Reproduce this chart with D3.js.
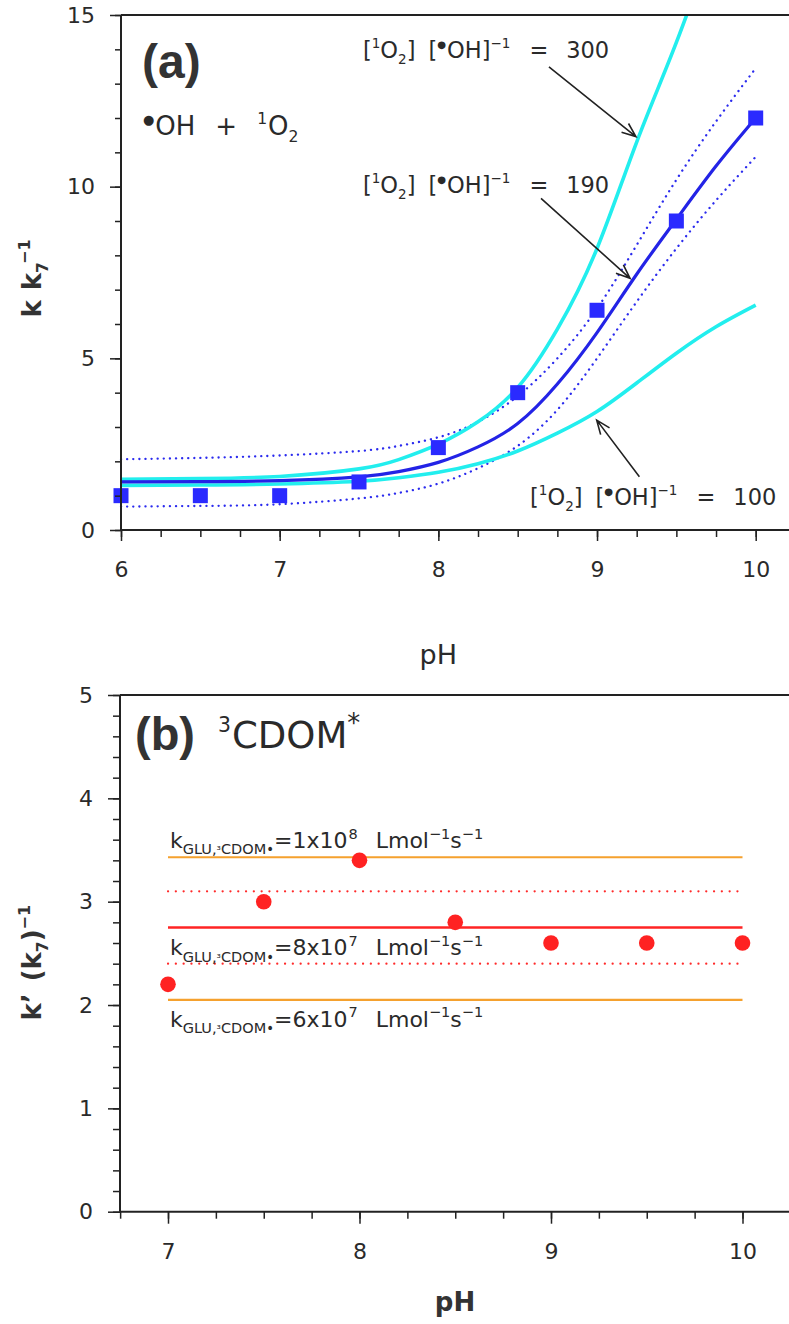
<!DOCTYPE html>
<html><head><meta charset="utf-8">
<script src="https://cdn.jsdelivr.net/npm/d3@7"></script>
<style>
html,body{margin:0;padding:0;background:#fff;}
svg{display:block;font-family:"DejaVu Sans",sans-serif;}
</style></head>
<body>
<svg id="c" width="789" height="1324"></svg>
<script>
// ---------------- DATA ----------------
// Panel (a)
const phObsA = [6, 6.5, 7, 7.5, 8, 8.5, 9, 9.5, 10];
const kObsA  = [1.0, 1.0, 1.0, 1.4, 2.4, 4.0, 6.4, 9.0, 12.0];
const phCurveA = [6, 6.5, 7, 7.5, 7.75, 8, 8.25, 8.5, 8.75, 9, 9.25, 9.5, 9.75, 10];
const fit190   = [1.40, 1.41, 1.44, 1.55, 1.70, 1.97, 2.42, 3.10, 4.25, 5.75, 7.45, 9.05, 10.60, 12.00];
const upper190 = [2.06, 2.10, 2.17, 2.30, 2.45, 2.70, 3.15, 3.90, 5.00, 6.45, 8.30, 10.20, 11.90, 13.45];
const lower190 = [0.68, 0.70, 0.75, 0.92, 1.08, 1.35, 1.80, 2.45, 3.50, 5.00, 6.65, 8.20, 9.60, 10.87];
const fit300   = [1.48, 1.50, 1.56, 1.78, 2.05, 2.50, 3.15, 4.15, 5.85, 8.20, 11.30, 14.20, 17.30, 20.00];
const fit100   = [1.30, 1.31, 1.34, 1.42, 1.52, 1.68, 1.93, 2.30, 2.82, 3.45, 4.28, 5.15, 5.92, 6.55];
const xTicksA = [6, 7, 8, 9, 10];
const yTicksA = [0, 5, 10, 15];

// Panel (b)
const phObsB = [7, 7.5, 8, 8.5, 9, 9.5, 10];
const kObsB  = [2.2, 3.0, 3.4, 2.8, 2.6, 2.6, 2.6];
const levelRangeB = [7, 10];
const levelValuesB = [3.43, 3.10, 2.75, 2.40, 2.05];
const levelKindsB  = ["orange", "reddot", "red", "reddot", "orange"];
const xTicksB = [7, 8, 9, 10];
const yTicksB = [0, 1, 2, 3, 4, 5];

// ---------------- DRAW ----------------
const svg = d3.select("#c");
const AX = "#222";
const TXT = "#2a2a2a";

function rich(g, x, y, segs, size, attrs) {
  const t = g.append("text").attr("x", x).attr("y", y).attr("font-size", size).attr("fill", TXT);
  if (attrs) Object.entries(attrs).forEach(([k, v]) => t.attr(k, v));
  let cur = 0;
  segs.forEach(s => {
    const [txt, type, dx, sc] = s;
    let shift = 0, fs = size;
    if (type === "sup") { shift = -size * 0.42; fs = size * (sc || 0.62); }
    else if (type === "sub") { shift = size * 0.28; fs = size * (sc || 0.62); }
    else if (sc) fs = size * sc;
    const ts = t.append("tspan").attr("dy", shift - cur).attr("font-size", fs).text(txt);
    if (dx) ts.attr("dx", dx);
    cur = shift;
  });
  return t;
}

// ===== Panel (a) =====
const xA = d3.scaleLinear().domain([6, 10]).range([121, 755.7]);
const yA = d3.scaleLinear().domain([0, 15]).range([530, 15]);
const gA = svg.append("g");

gA.append("clipPath").attr("id", "clipA").append("rect")
  .attr("x", xA(6) - 10).attr("y", yA(15)).attr("width", 789).attr("height", yA(0) - yA(15));

const lineA = (arr) => d3.line().x((d, i) => xA(phCurveA[i])).y(d => yA(d)).curve(d3.curveNatural)(arr);
const plotA = gA.append("g").attr("clip-path", "url(#clipA)");

[upper190, lower190].forEach(arr => {
  plotA.append("path").attr("d", lineA(arr)).attr("fill", "none").attr("stroke", "#2b2bee")
    .attr("stroke-width", 2.3).attr("stroke-dasharray", "0.1 6").attr("stroke-linecap", "round");
});
[fit300, fit100].forEach(arr => {
  plotA.append("path").attr("d", lineA(arr)).attr("fill", "none").attr("stroke", "#22eeee").attr("stroke-width", 3.6);
});
plotA.append("path").attr("d", lineA(fit190)).attr("fill", "none").attr("stroke", "#2323e6").attr("stroke-width", 3.2);

const sq = 15;
plotA.selectAll("rect.obs").data(phObsA).enter().append("rect")
  .attr("x", d => xA(d) - sq / 2).attr("y", (d, i) => yA(kObsA[i]) - sq / 2)
  .attr("width", sq).attr("height", sq).attr("fill", "#2a2aff");

// axes (a)
const axA = gA.append("g").attr("stroke", AX).attr("fill", "none");
axA.append("line").attr("x1", xA(6)).attr("x2", 789).attr("y1", yA(15)).attr("y2", yA(15)).attr("stroke-width", 2);
axA.append("line").attr("x1", xA(6)).attr("x2", 789).attr("y1", yA(0)).attr("y2", yA(0)).attr("stroke-width", 2);
axA.append("line").attr("x1", xA(6)).attr("x2", xA(6)).attr("y1", yA(0)).attr("y2", yA(15)).attr("stroke-width", 2);

function styleAxis(g) {
  g.select(".domain").remove();
  g.attr("font-family", null);
  g.selectAll("line").attr("stroke", AX).attr("stroke-width", 1.5);
  g.selectAll("text").attr("font-family", "DejaVu Sans").attr("font-size", 22).attr("fill", TXT);
}
gA.append("g").attr("transform", `translate(${xA(6)},0)`)
  .call(d3.axisLeft(yA).tickValues(d3.range(0, 15.01, 1)).tickSize(6).tickFormat(""))
  .call(styleAxis);
gA.append("g").attr("transform", `translate(${xA(6)},0)`)
  .call(d3.axisLeft(yA).tickValues(yTicksA).tickSize(11).tickPadding(15).tickFormat(d3.format("d")))
  .call(styleAxis);
gA.append("g").attr("transform", `translate(0,${yA(0)})`)
  .call(d3.axisBottom(xA).tickValues(d3.range(6, 10.01, 0.25)).tickSize(7).tickFormat(""))
  .call(styleAxis);
gA.append("g").attr("transform", `translate(0,${yA(0)})`)
  .call(d3.axisBottom(xA).tickValues(xTicksA).tickSize(11).tickPadding(20).tickFormat(d3.format("d")))
  .call(styleAxis);

gA.append("text").attr("x", xA(8)).attr("y", 664).attr("text-anchor", "middle")
  .attr("font-size", 27).attr("fill", TXT).text("pH");

rich(gA, 0, 0, [["k", ""], ["k", "", 10], ["7", "sub", 0, 0.6], ["−1", "sup", -2, 0.62]], 26,
  {"font-weight": "bold", "transform": `translate(41,${yA(7.5) + 45}) rotate(-90)`, "fill": "#333"});

gA.append("text").attr("x", 142).attr("y", 78).attr("font-size", 48).attr("font-weight", "bold")
  .attr("font-family", "Liberation Sans").attr("fill", "#333").text("(a)");
rich(gA, 143, 135, [["●", "sup", 0, 0.5], ["OH", "", 1], ["+", "", 20], ["1", "sup", 20, 0.6], ["O", "", 1], ["2", "sub", 0, 0.6]], 26);

// annotations (a)
const notes = [
  {txt: "300", x: 7.525, y: 13.75, a: [8.697, 13.49, 9.245, 11.46]},
  {txt: "190", x: 7.525, y: 9.82,  a: [8.647, 9.66, 9.208, 7.33]},
  {txt: "100", x: 8.578, y: 0.73,  a: [9.267, 1.55, 8.998, 3.20]}
];
notes.forEach(n => {
  rich(gA, xA(n.x), yA(n.y), [["[", ""], ["1", "sup", 0, 0.6], ["O", ""], ["2", "sub", 0, 0.6], ["]", ""],
    ["[", "", 13], ["●", "sup", 0, 0.45], ["OH]", "", 1], ["−1", "sup", 0, 0.6], ["=", "", 19], [n.txt, "", 18]], 22.5);
  const x1 = xA(n.a[0]), y1 = yA(n.a[1]), x2 = xA(n.a[2]), y2 = yA(n.a[3]);
  const ang = Math.atan2(y2 - y1, x2 - x1), L = 15, w = 0.38;
  gA.append("path").attr("fill", "none").attr("stroke", "#222").attr("stroke-width", 1.6)
    .attr("d", `M${x1},${y1}L${x2},${y2}M${x2 - L * Math.cos(ang - w)},${y2 - L * Math.sin(ang - w)}L${x2},${y2}L${x2 - L * Math.cos(ang + w)},${y2 - L * Math.sin(ang + w)}`);
});

// ===== Panel (b) =====
const xB = d3.scaleLinear().domain([7, 10]).range([168, 742.5]);
const yB = d3.scaleLinear().domain([0, 5]).range([1211.7, 695]);
const gB = svg.append("g");
const x0B = 120;

const levelStyle = {
  orange: {stroke: "#f5a12e", w: 2.2, dash: null},
  red: {stroke: "#ff2424", w: 2.6, dash: null},
  reddot: {stroke: "#ff2a2a", w: 2.2, dash: "0.1 7.7"}
};
levelValuesB.forEach((v, i) => {
  const s = levelStyle[levelKindsB[i]];
  const l = gB.append("line").attr("x1", xB(levelRangeB[0])).attr("x2", xB(levelRangeB[1]))
    .attr("y1", yB(v)).attr("y2", yB(v)).attr("stroke", s.stroke).attr("stroke-width", s.w);
  if (s.dash) l.attr("stroke-dasharray", s.dash).attr("stroke-linecap", "round");
});

gB.selectAll("circle.obs").data(phObsB).enter().append("circle")
  .attr("cx", d => xB(d)).attr("cy", (d, i) => yB(kObsB[i])).attr("r", 7.8).attr("fill", "#ff2222");

const axB = gB.append("g").attr("stroke", AX).attr("fill", "none");
axB.append("line").attr("x1", x0B).attr("x2", 789).attr("y1", yB(5)).attr("y2", yB(5)).attr("stroke-width", 2);
axB.append("line").attr("x1", x0B).attr("x2", 789).attr("y1", yB(0)).attr("y2", yB(0)).attr("stroke-width", 2);
axB.append("line").attr("x1", x0B).attr("x2", x0B).attr("y1", yB(0)).attr("y2", yB(5)).attr("stroke-width", 2);

gB.append("g").attr("transform", `translate(${x0B},0)`)
  .call(d3.axisLeft(yB).tickValues(d3.range(0, 5.001, 0.2)).tickSize(7).tickFormat(""))
  .call(styleAxis);
gB.append("g").attr("transform", `translate(${x0B},0)`)
  .call(d3.axisLeft(yB).tickValues(yTicksB).tickSize(12).tickPadding(15).tickFormat(d3.format("d")))
  .call(styleAxis);
gB.append("g").attr("transform", `translate(0,${yB(0)})`)
  .call(d3.axisBottom(xB).tickValues(d3.range(6.75, 10.01, 0.25)).tickSize(7).tickFormat(""))
  .call(styleAxis);
gB.append("g").attr("transform", `translate(0,${yB(0)})`)
  .call(d3.axisBottom(xB).tickValues(xTicksB).tickSize(12).tickPadding(20).tickFormat(d3.format("d")))
  .call(styleAxis);

gB.append("text").attr("x", 455).attr("y", 1311).attr("text-anchor", "middle")
  .attr("font-size", 26).attr("font-weight", "bold").attr("fill", "#333").text("pH");

rich(gB, 0, 0, [["k’", ""], ["(k", "", 12], ["7", "sub", 0, 0.6], [")", ""], ["−1", "sup", 0, 0.62]], 26,
  {"font-weight": "bold", "transform": `translate(41,${yB(2.45) + 62}) rotate(-90)`, "fill": "#333"});

gB.append("text").attr("x", 135).attr("y", 750).attr("font-size", 47).attr("font-family", "Liberation Sans")
  .attr("font-weight", "bold").attr("fill", "#333").text("(b)");
rich(gB, 218, 748, [["3", "sup", 0, 0.55], ["CDOM", "", 1], ["*", "sup", 0, 0.7]], 37);

const labelsB = [
  {pre: "1", exp: "8", y: 3.52},
  {pre: "8", exp: "7", y: 2.48},
  {pre: "6", exp: "7", y: 1.79}
];
labelsB.forEach(l => {
  rich(gB, xB(7.01), yB(l.y), [["k", ""], ["GLU,", "sub", 0, 0.66], ["³", "sub", 0, 0.5], ["CDOM", "sub", 0, 0.66], ["•", "sub", 0, 0.6],
    ["=" + l.pre + "x10", ""], [l.exp, "sup", 1, 0.66], ["Lmol", "", 18], ["−1", "sup", 0, 0.66], ["s", ""], ["−1", "sup", 0, 0.66]], 22);
});
</script>
</body></html>
